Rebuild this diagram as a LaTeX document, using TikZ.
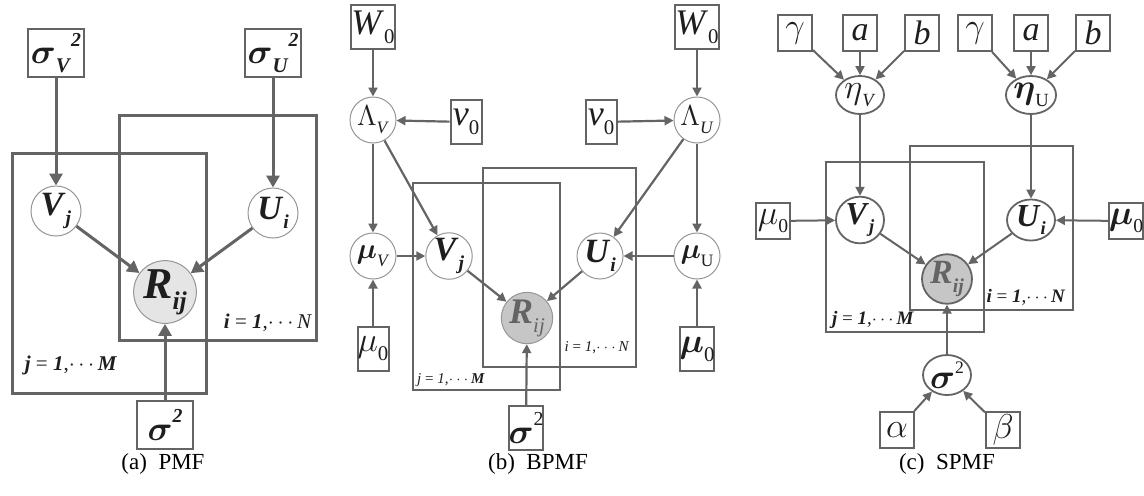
\documentclass[tikz,border=0pt]{standalone}
\usepackage{amsmath}
\usepackage{fontspec}
\setmainfont{Liberation Serif}
\usetikzlibrary{arrows.meta,shapes.geometric}
\definecolor{Edge}{RGB}{100,100,100}
\definecolor{Ring}{RGB}{150,150,150}
\definecolor{Ink}{RGB}{30,30,30}
\newcommand{\bi}[1]{\textbf{\textit{#1}}}
\newcommand{\dn}[1]{\raisebox{-.55ex}{\scalebox{.58}{#1}}}
\newcommand{\up}[1]{\raisebox{1.05ex}{\scalebox{.55}{#1}}}
\newcommand{\fs}[1]{\fontsize{#1}{#1}\selectfont}
\newcommand{\bg}[1]{$\boldsymbol{#1}$}

\begin{document}
\begin{tikzpicture}[x=.5pt,y=-.5pt,text=Ink,
 % panel (a)
 ba/.style={draw=Edge,line width=1.4pt,fill=white,minimum width=28pt,minimum height=24pt,inner sep=0pt,font=\fs{18}},
 ca/.style={circle,draw=Ring,line width=.5pt,fill=white,minimum size=25pt,inner sep=0pt,font=\fs{17}},
 ea/.style={-{Triangle[length=6pt,width=6.5pt]},line width=1.5pt,Edge},
 pa/.style={draw=Edge,line width=1.5pt},
 % panel (b)
 bb/.style={draw=Edge,line width=1pt,fill=white,minimum width=15.5pt,minimum height=22pt,inner sep=0pt,font=\fs{18}},
 cb/.style={circle,draw=Ring,line width=.5pt,fill=white,minimum size=23pt,inner sep=0pt,font=\fs{15}},
 eb/.style={-{Triangle[length=4.5pt,width=4.5pt]},line width=1.1pt,Edge},
 pb/.style={draw=Edge,line width=1pt},
 % panel (c)
 bc/.style={draw=Edge,line width=1pt,fill=white,minimum width=17pt,minimum height=18pt,inner sep=0pt,font=\fs{17}},
 cc/.style={ellipse,draw=Edge,line width=.9pt,fill=white,minimum width=24pt,minimum height=19pt,inner sep=0pt,font=\fs{16}},
 ec/.style={-{Triangle[length=4.5pt,width=4.5pt]},line width=1pt,Edge},
 pc/.style={draw=Edge,line width=1pt},
 obs/.style={fill=gray!#1,text=Edge},
 lab/.style={font=\fs{#1}},
 capt/.style={font=\fs{11.5},text=black}]
\useasboundingbox (0,0) rectangle (1144,495);

% (a) PMF
\draw[pa] (12,153) rectangle (206,393);
\draw[pa] (119,115) rectangle (316,340);
\node[ba] (sv) at (56,53) {\bg{\sigma}\dn{\bi{V}}\up{\bi{2}}};
\node[ba] (su) at (273,53) {\bg{\sigma}\dn{\bi{U}}\up{\bi{2}}};
\node[ca] (vj) at (56,211) {\bi{V}\dn{\bi{j}}};
\node[ca] (ui) at (273,213) {\bi{U}\dn{\bi{i}}};
\node[ca,obs=20,text=Ink,font=\fs{22}] (ra) at (165,292) {\bi{R}\dn{\bi{ij}}};
\node[ba] (sa) at (165,425) {\bg{\sigma}\up{\bi{2}}};
\node[lab=10.5] (ia) at (268,323) {\bi{i} = \bi{1},$\cdots$\textit{N}};
\node[lab=10.5] (ja) at (71,365) {\bi{j} = \bi{1},$\cdots$\bi{M}};
\draw[ea] (sv)--(vj);\draw[ea] (su)--(ui);
\draw[ea] (vj)--(ra);\draw[ea] (ui)--(ra);\draw[ea] (sa)--(ra);
\node[capt] (capa) at (163,464) {(a)\enspace PMF};

% (b) BPMF
\draw[pb] (413,183) rectangle (560,390);
\draw[pb] (483,168) rectangle (636,367);
\node[bb] (wv) at (373,27) {\textit{W}\dn{0}};
\node[cb] (lv) at (373,120) {$\Lambda$\dn{\textit{V}}};
\node[bb] (nv) at (466,122) {\textit{v}\dn{0}};
\node[cb] (mv) at (373,256) {\bg{\mu}\dn{\textit{V}}};
\node[cb,font=\fs{17}] (vb) at (449,256) {\bi{V}\dn{\bi{j}}};
\node[bb] (zv) at (373,349) {$\mu$\dn{0}};
\node[bb] (wu) at (697,27) {\textit{W}\dn{0}};
\node[cb] (lu) at (697,120) {$\Lambda$\dn{\textit{U}}};
\node[bb] (nu) at (601,122) {\textit{v}\dn{0}};
\node[cb] (mu) at (697,256) {\bg{\mu}\dn{U}};
\node[cb,font=\fs{17}] (ub) at (600,256) {\bi{U}\dn{\bi{i}}};
\node[bb] (zu) at (697,349) {\bg{\mu}\dn{0}};
\node[cb,obs=45,font=\fs{18}] (rb) at (527,318) {\bi{R}\dn{\textit{ij}}};
\node[bb] (sb) at (526,428) {\bg{\sigma}\up{2}};
\node[lab=7.5] (ib) at (597,348) {\textit{i} = \textit{1},$\cdots$\textit{N}};
\node[lab=7.5] (jb) at (451,380) {\textit{j} = \textit{1},$\cdots$\bi{M}};
\draw[eb] (wv)--(lv);\draw[eb] (nv)--(lv);\draw[eb] (lv)--(mv);\draw[eb] (lv)--(vb);
\draw[eb] (mv)--(vb);\draw[eb] (zv)--(mv);
\draw[eb] (wu)--(lu);\draw[eb] (nu)--(lu);\draw[eb] (lu)--(mu);\draw[eb] (lu)--(ub);
\draw[eb] (mu)--(ub);\draw[eb] (zu)--(mu);
\draw[eb] (vb)--(rb);\draw[eb] (ub)--(rb);\draw[eb] (sb)--(rb);
\node[capt] (capb) at (538,464) {(b)\enspace BPMF};

% (c) SPMF
\draw[pc] (826,162) rectangle (984,332);
\draw[pc] (910,146) rectangle (1073,310);
\node[bc] (gv) at (795,33) {$\gamma$};
\node[bc] (av) at (860,33) {\textit{a}};
\node[bc] (bv) at (922,33) {\textit{b}};
\node[bc] (gu) at (975,33) {$\gamma$};
\node[bc] (au) at (1031,33) {\textit{a}};
\node[bc] (bu) at (1093,33) {\textit{b}};
\node[cc] (hv) at (860,95) {$\eta$\dn{\textit{V}}};
\node[cc] (hu) at (1031,95) {\bg{\eta}\dn{U}};
\node[cc,minimum height=18pt] (vc) at (860,220) {\bi{V}\dn{\bi{j}}};
\node[cc,minimum height=18pt] (uc) at (1031,220) {\bi{U}\dn{\bi{i}}};
\node[bc] (zv2) at (773,221) {$\mu$\dn{0}};
\node[bc] (zu2) at (1126,221) {\bg{\mu}\dn{0}};
\node[cc,obs=45,minimum width=25pt,minimum height=18pt,font=\fs{17}] (rc) at (947,279) {\bi{R}\dn{\bi{ij}}};
\node[cc,minimum height=20pt] (sc) at (947,375) {\bg{\sigma}\up{2}};
\node[bc] (al) at (897,430) {$\alpha$};
\node[bc] (be) at (1003,430) {$\beta$};
\node[lab=9.5] (ic) at (1026,297) {\bi{i} = \bi{1},$\cdots$\bi{N}};
\node[lab=9.5] (jc) at (873,320) {\bi{j} = \bi{1},$\cdots$\bi{M}};
\draw[ec] (gv)--(hv);\draw[ec] (av)--(hv);\draw[ec] (bv)--(hv);
\draw[ec] (gu)--(hu);\draw[ec] (au)--(hu);\draw[ec] (bu)--(hu);
\draw[ec] (hv)--(vc);\draw[ec] (hu)--(uc);
\draw[ec] (zv2)--(vc);\draw[ec] (zu2)--(uc);
\draw[ec] (vc)--(rc);\draw[ec] (uc)--(rc);\draw[ec] (sc)--(rc);
\draw[ec] (al)--(sc);\draw[ec] (be)--(sc);
\node[capt] (capc) at (947,464) {(c)\enspace SPMF};
\end{tikzpicture}
\end{document}
